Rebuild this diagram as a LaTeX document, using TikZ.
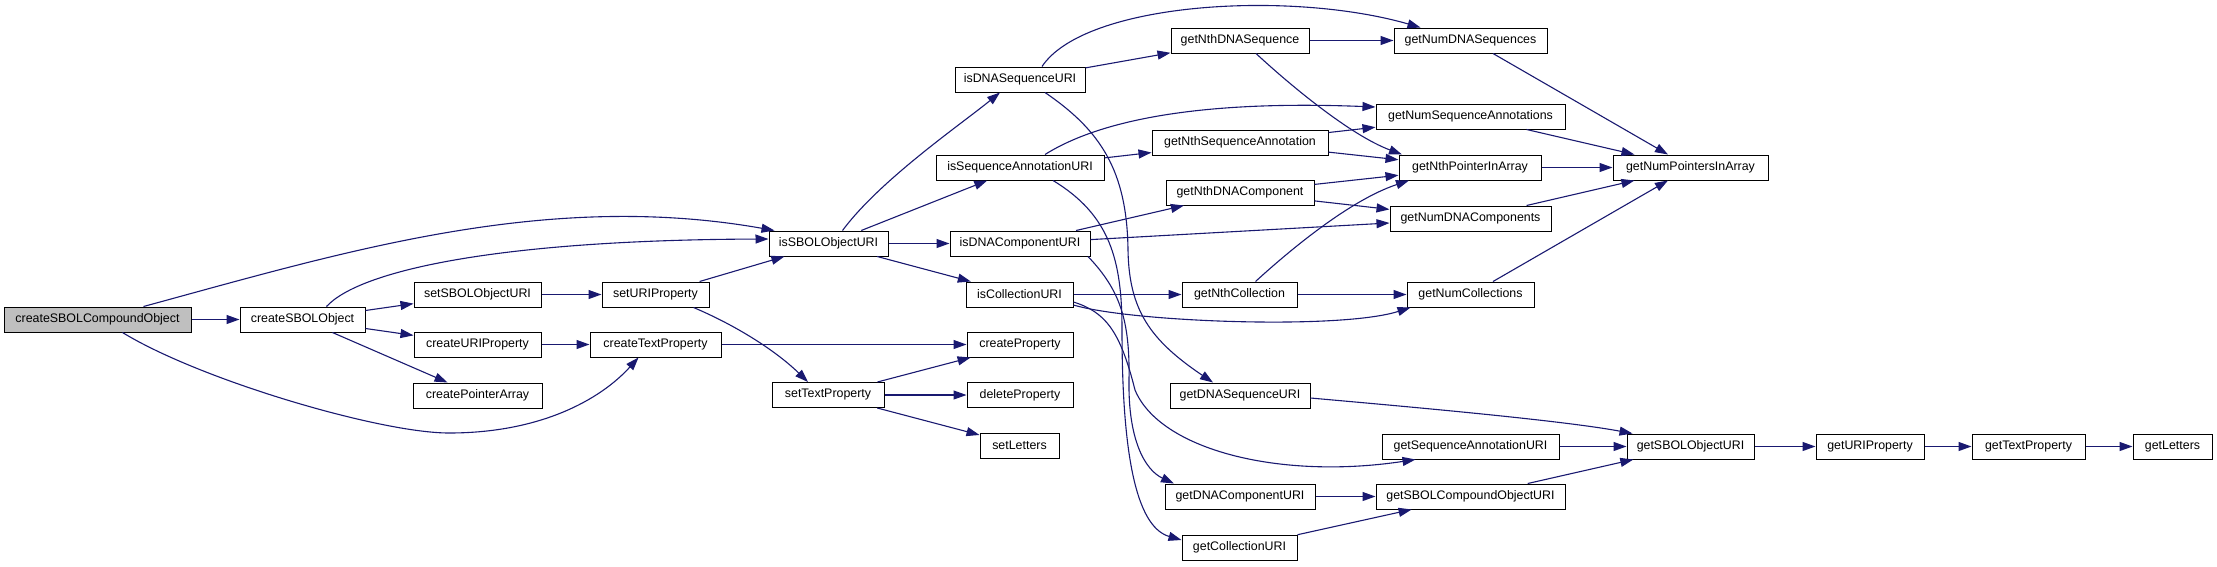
\documentclass[tikz,border=0pt]{standalone}
\usepackage{fontspec}
\setmainfont{Liberation Sans}
\usetikzlibrary{arrows.meta}
\definecolor{edgecol}{HTML}{191970}
\definecolor{rootfill}{HTML}{BFBFBF}
\begin{document}
\begin{tikzpicture}[x=1pt,y=-1pt,
  box/.style={draw=black,line width=1pt,fill=white,minimum height=25pt,inner sep=0pt,
    font=\fontsize{12.4}{14}\selectfont,text=black},
  root/.style={box,fill=rootfill},
  edge/.style={draw=edgecol,line width=1.1pt,-{Triangle[length=13pt,width=9pt]}}]
\useasboundingbox (0,0) rectangle (2217,566);
% column 0-2
\node[root,minimum width=187pt] (cSCO) at (97.5,319.5) {createSBOLCompoundObject};
\node[box,minimum width=125pt] (cSO) at (302.5,319.5) {createSBOLObject};
\node[box,minimum width=127pt] (setSOU) at (477.5,294.5) {setSBOLObjectURI};
\node[box,minimum width=127pt] (cURIP) at (477.5,344.5) {createURIProperty};
\node[box,minimum width=129pt] (cPA) at (477.5,395.5) {createPointerArray};
\node[box,minimum width=107pt] (setURIP) at (655.5,294.5) {setURIProperty};
\node[box,minimum width=131pt] (cTP) at (655.5,344.5) {createTextProperty};
\node[box,minimum width=119pt] (isSOU) at (828.5,243.5) {isSBOLObjectURI};
\node[box,minimum width=112pt] (setTP) at (828,395) {setTextProperty};
% column 3
\node[box,minimum width=130pt] (isDSU) at (1020,79.5) {isDNASequenceURI};
\node[box,minimum width=168pt] (isSAU) at (1020,167.5) {isSequenceAnnotationURI};
\node[box,minimum width=140pt] (isDCU) at (1020,243.5) {isDNAComponentURI};
\node[box,minimum width=107pt] (isCU) at (1019.5,294.5) {isCollectionURI};
\node[box,minimum width=106pt] (cP) at (1020,344.5) {createProperty};
\node[box,minimum width=106pt] (dP) at (1020,395) {deleteProperty};
\node[box,minimum width=79pt] (setL) at (1019.5,445.5) {setLetters};
% column 4
\node[box,minimum width=138pt] (gNDS) at (1240,40.5) {getNthDNASequence};
\node[box,minimum width=176pt] (gNSA) at (1240,142.5) {getNthSequenceAnnotation};
\node[box,minimum width=148pt] (gNDC) at (1240,192.5) {getNthDNAComponent};
\node[box,minimum width=115pt] (gNC) at (1239.5,294.5) {getNthCollection};
\node[box,minimum width=140pt] (gDSU) at (1240,395.5) {getDNASequenceURI};
\node[box,minimum width=150pt] (gDCU) at (1240,496.5) {getDNAComponentURI};
\node[box,minimum width=115pt] (gCU) at (1239.5,547.5) {getCollectionURI};
% column 5
\node[box,minimum width=153pt] (gNumDS) at (1470.5,40.5) {getNumDNASequences};
\node[box,minimum width=189pt] (gNumSA) at (1470.5,116.5) {getNumSequenceAnnotations};
\node[box,minimum width=142pt] (gNPIA) at (1470,167.5) {getNthPointerInArray};
\node[box,minimum width=161pt] (gNumDC) at (1470.5,218.5) {getNumDNAComponents};
\node[box,minimum width=127pt] (gNumC) at (1470.5,294.5) {getNumCollections};
\node[box,minimum width=177pt] (gSAU) at (1470.5,446.5) {getSequenceAnnotationURI};
\node[box,minimum width=189pt] (gSCOU) at (1470.5,496.5) {getSBOLCompoundObjectURI};
% column 6+
\node[box,minimum width=155pt] (gNumPIA) at (1690.5,167.5) {getNumPointersInArray};
\node[box,minimum width=127pt] (gSOU) at (1690.5,446.5) {getSBOLObjectURI};
\node[box,minimum width=108pt] (gURIP) at (1870,446.5) {getURIProperty};
\node[box,minimum width=113pt] (gTP) at (2028.5,446.5) {getTextProperty};
\node[box,minimum width=79pt] (gL) at (2172.5,446.5) {getLetters};

% left part edges
\draw[edge] (cSCO) -- (cSO);
\draw[edge] (cSO) -- (setSOU);
\draw[edge] (cSO) -- (cURIP);
\draw[edge] (cSO) -- (cPA);
\draw[edge] (setSOU) -- (setURIP);
\draw[edge] (cURIP) -- (cTP);
\draw[edge] (setURIP) -- (isSOU);
\draw[edge] ([xshift=38pt]setURIP.south) .. controls (735,325) and (775,350) .. ([xshift=-20pt]setTP.north);
\draw[edge] (cTP) -- (cP);
\draw[edge] ([xshift=46pt]cSCO.north) .. controls (344,252) and (545,190) .. ([xshift=6pt]isSOU.north west);
\draw[edge] ([xshift=24pt]cSO.north) .. controls (360,270) and (500,240) .. ([yshift=4.5pt]isSOU.west);
\draw[edge] ([xshift=25pt]cSCO.south) .. controls (200,380) and (380,433) .. (449,433)
  .. controls (540,433) and (600,400) .. ([xshift=-17pt]cTP.south);
\draw[edge] (isSOU) -- (isDCU);
\draw[edge] (isSOU) -- (isSAU);
\draw[edge] (isSOU) -- (isCU);
\draw[edge] ([xshift=14pt]isSOU.north) .. controls (880,180) and (960,125) .. ([xshift=-20pt]isDSU.south);
\draw[edge] (setTP) -- (cP);
\draw[edge] (setTP) -- (dP);
\draw[edge] (setTP) -- (setL);

% right part edges
\draw[edge] (isDSU) -- (gNDS);
\draw[edge] ([xshift=22pt]isDSU.north) .. controls (1085,2) and (1290,-10) .. ([xshift=-50pt]gNumDS.north);
\draw[edge] (gNDS) -- (gNumDS);
\draw[edge] ([xshift=16pt]gNDS.south) .. controls (1290,85) and (1350,135) .. ([xshift=-68pt]gNPIA.north);
\draw[edge] ([xshift=25pt]isSAU.north) .. controls (1100,120) and (1200,100) .. ([yshift=9.5pt]gNumSA.west);
\draw[edge] (isSAU) -- (gNSA);
\draw[edge] (gNSA) -- (gNumSA);
\draw[edge] (gNSA) -- (gNPIA);
\draw[edge] (gNDC) -- (gNPIA);
\draw[edge] (gNDC) -- (gNumDC);
\draw[edge] (isDCU) -- (gNDC);
\draw[edge] (isDCU) -- (gNumDC);
\draw[edge] (isCU) -- (gNC);
\draw[edge] (gNC) -- (gNumC);
\draw[edge] ([xshift=16pt]gNC.north) .. controls (1290,250) and (1350,200) .. ([xshift=-61pt]gNPIA.south);
\draw[edge] ([yshift=-10.5pt]isCU.east) .. controls (1130,322) and (1340,330) .. ([xshift=-60pt]gNumC.south);
\draw[edge] (gNumDS) -- (gNumPIA);
\draw[edge] (gNumSA) -- (gNumPIA);
\draw[edge] (gNPIA) -- (gNumPIA);
\draw[edge] (gNumDC) -- (gNumPIA);
\draw[edge] (gNumC) -- (gNumPIA);
\draw[edge] ([yshift=-2.5pt]gDSU.east) .. controls (1400,406) and (1560,420) .. ([xshift=-58pt]gSOU.north);
\draw[edge] (gSAU) -- (gSOU);
\draw[edge] (gSCOU) -- (gSOU);
\draw[edge] (gDCU) -- (gSCOU);
\draw[edge] (gCU) -- (gSCOU);
\draw[edge] (gSOU) -- (gURIP);
\draw[edge] (gURIP) -- (gTP);
\draw[edge] (gTP) -- (gL);

% long downward curves
\draw[edge] ([xshift=25pt]isDSU.south) .. controls (1100,130) and (1127,170) .. (1128,250)
  .. controls (1129,310) and (1150,340) .. ([xshift=-27pt]gDSU.north);
\draw[edge] ([xshift=33pt]isSAU.south) .. controls (1110,215) and (1122,260) .. (1122,330)
  .. controls (1122,470) and (1140,528) .. ([yshift=7.5pt]gCU.west);
\draw[edge] ([xshift=68pt]isDCU.south) .. controls (1120,290) and (1130,320) .. (1129,380)
  .. controls (1128,440) and (1145,470) .. ([xshift=-66pt]gDCU.north);
\draw[edge] ([yshift=-7.5pt]isCU.east) .. controls (1105,312) and (1120,330) .. (1135,390)
  .. controls (1160,450) and (1280,480) .. ([xshift=-55pt]gSAU.south);
\end{tikzpicture}
\end{document}
